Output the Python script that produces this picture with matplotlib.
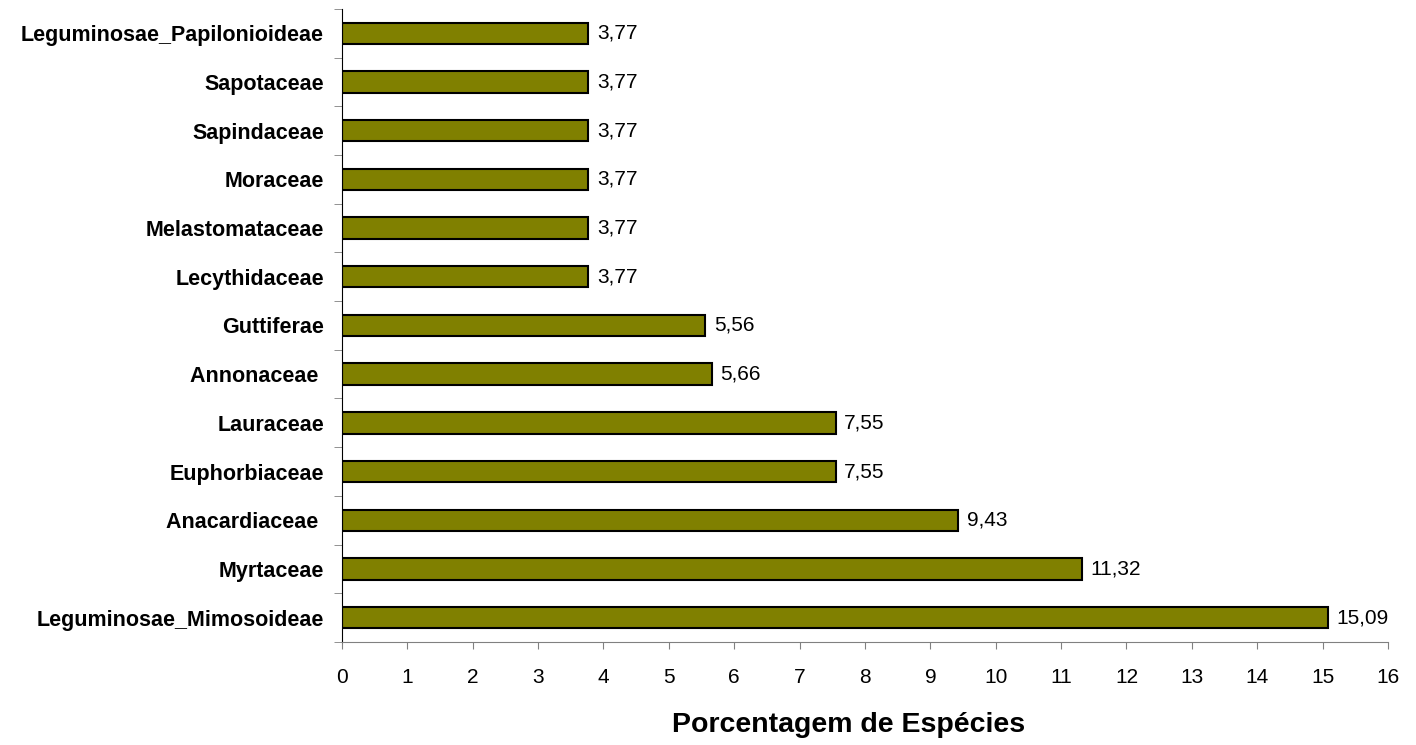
import numpy as np
import matplotlib.pyplot as plt

plt.rcParams['font.family'] = ['Liberation Sans', 'DejaVu Sans']

# dados (de baixo para cima)
familias = ["Leguminosae_Mimosoideae", "Myrtaceae", "Anacardiaceae ", "Euphorbiaceae",
            "Lauraceae", "Annonaceae ", "Guttiferae", "Lecythidaceae", "Melastomataceae",
            "Moraceae", "Sapindaceae", "Sapotaceae", "Leguminosae_Papilonioideae"]
porcentagem = [15.09, 11.32, 9.43, 7.55, 7.55, 5.66, 5.56, 3.77, 3.77, 3.77, 3.77, 3.77, 3.77]

fig = plt.figure(figsize=(14.16, 7.45), dpi=100)
ax = fig.add_axes([0.2415, 0.1383, 0.7387, 0.8497])

y = np.arange(len(familias))
ax.barh(y, porcentagem, height=0.44, color='#808000', edgecolor='black', linewidth=1.5)

for yi, v in zip(y, porcentagem):
    ax.annotate(f"{v:.2f}".replace('.', ','), (v, yi), xytext=(6, 0),
                textcoords='offset points', va='center', ha='left', fontsize=15)

ax.set_xlim(0, 16)
ax.set_ylim(-0.5, len(familias) - 0.5)
ax.set_xticks(np.arange(0, 17, 1))
ax.tick_params(axis='x', labelsize=15, length=5, color='#808080', pad=14)

ax.set_yticks(y)
ax.set_yticklabels(familias, fontweight='bold', fontsize=15.5)
ax.tick_params(axis='y', which='major', length=0, pad=13)
ax.set_yticks(np.arange(-0.5, len(familias), 1), minor=True)
ax.tick_params(axis='y', which='minor', length=6, color='#808080')

for s in ['top', 'right']:
    ax.spines[s].set_visible(False)
ax.spines['left'].set_color('black')
ax.spines['bottom'].set_color('#808080')

ax.set_xlabel("Porcentagem de Espécies", fontsize=20.5, fontweight='bold', labelpad=17.5)
ax.xaxis.label.set_x(0.484)

fig.savefig('out.png', dpi=100)
